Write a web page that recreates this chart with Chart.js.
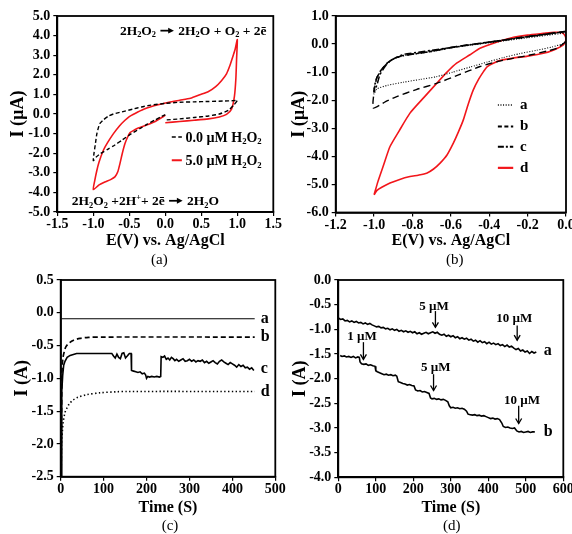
<!DOCTYPE html>
<html>
<head>
<meta charset="utf-8">
<script src="https://cdn.jsdelivr.net/npm/chart.js@4.4.1/dist/chart.umd.min.js"></script>
<style>
  html, body { margin: 0; padding: 0; background: #fff; }
  #wrap { position: relative; width: 572px; height: 534px; overflow: hidden; }
  canvas { position: absolute; }
</style>
</head>
<body>
<div id="wrap">
  <canvas id="ca" width="286" height="267" style="left:0;top:0"></canvas>
  <canvas id="cb" width="286" height="267" style="left:286px;top:0"></canvas>
  <canvas id="cc" width="286" height="267" style="left:0;top:267px"></canvas>
  <canvas id="cd" width="286" height="267" style="left:286px;top:267px"></canvas>
</div>
<script>
const FONT = "'Liberation Serif', 'Times New Roman', serif";
const RED = "#f2161b";
const INK = "#000";

// (a) CV, blank vs 5.0 µM H2O2
const aTicksX = [-1.5, -1.0, -0.5, 0.0, 0.5, 1.0, 1.5];
const aTicksY = [5, 4, 3, 2, 1, 0, -1, -2, -3, -4, -5];
const aBlankE = [0.02, 0.2, 0.4, 0.6, 0.75, 0.88, 0.95, 1.0, 0.95, 0.8, 0.6, 0.4, 0.2, 0.0, -0.2, -0.33, -0.45, -0.6, -0.72, -0.79,
  -0.86, -0.91, -0.95, -0.97, -0.99, -1.0, -0.96, -0.9, -0.8, -0.7, -0.6, -0.47, -0.35, -0.25, -0.15, -0.05, 0.0];
const aBlankI = [-0.3, -0.25, -0.18, -0.1, 0.0, 0.2, 0.45, 0.7, 0.68, 0.66, 0.64, 0.62, 0.6, 0.54, 0.45, 0.36, 0.25, 0.11, 0.0, -0.11,
  -0.3, -0.49, -1.0, -1.5, -2.0, -2.38, -2.2, -2.02, -1.8, -1.58, -1.33, -1.0, -0.74, -0.52, -0.32, -0.12, -0.03];
const aPeroxE = [0.0, 0.2, 0.4, 0.6, 0.75, 0.85, 0.92, 0.96, 0.98, 0.99, 1.0,
  0.97, 0.94, 0.9, 0.85, 0.78, 0.7, 0.6, 0.48, 0.35, 0.2, 0.05, -0.1, -0.2, -0.3, -0.42, -0.5, -0.56, -0.64, -0.72, -0.8, -0.86, -0.92, -0.95, -0.98, -1.0,
  -0.92, -0.84, -0.76, -0.70, -0.66, -0.63, -0.6, -0.56, -0.52, -0.49, -0.43, -0.375, -0.25, -0.14, -0.05, 0.0];
const aPeroxI = [-0.45, -0.38, -0.32, -0.25, -0.15, -0.02, 0.25, 0.9, 1.8, 2.8, 3.8,
  3.3, 2.95, 2.5, 2.05, 1.7, 1.4, 1.15, 0.98, 0.8, 0.7, 0.6, 0.47, 0.37, 0.24, 0.03, -0.13, -0.32, -0.62, -1.0, -1.45, -1.85, -2.45, -2.87, -3.4, -3.86,
  -3.62, -3.47, -3.35, -3.21, -2.95, -2.53, -2.05, -1.51, -1.15, -0.95, -0.82, -0.72, -0.55, -0.38, -0.18, -0.06];

// (b) CV of electrodes a-d
const bTicksX = [-1.2, -1.0, -0.8, -0.6, -0.4, -0.2, 0.0];
const bTicksY = [1, 0, -1, -2, -3, -4, -5, -6];
const bLabels = ["a", "b", "c", "d"];
const bE_a = [0.0, -0.1, -0.24, -0.37, -0.5, -0.6, -0.708, -0.79, -0.848, -0.9, -0.934, -0.965, -0.986, -1.0,
  -1.0, -0.986, -0.93, -0.848, -0.76, -0.674, -0.59, -0.5, -0.41, -0.327, -0.24, -0.153, -0.07, -0.014, 0.0];
const bI_a = [0.4, 0.31, 0.19, 0.07, -0.04, -0.14, -0.28, -0.36, -0.42, -0.54, -0.71, -0.96, -1.22, -1.62,
  -1.78, -1.6, -1.47, -1.36, -1.26, -1.16, -1.0, -0.82, -0.64, -0.48, -0.34, -0.22, -0.1, 0.02, 0.12];
const bE_b = [0.0, -0.1, -0.24, -0.37, -0.5, -0.6, -0.708, -0.79, -0.848, -0.9, -0.934, -0.965, -0.986, -1.0, -1.004,
  -0.94, -0.882, -0.78, -0.674, -0.56, -0.448, -0.361, -0.27, -0.187, -0.1, -0.048, 0.0];
const bI_b = [0.46, 0.36, 0.23, 0.1, -0.02, -0.12, -0.26, -0.34, -0.4, -0.52, -0.69, -0.94, -1.2, -1.7, -2.28,
  -2.05, -1.87, -1.62, -1.4, -1.1, -0.8, -0.63, -0.5, -0.39, -0.25, -0.15, 0.09];
const bE_c = [0.0, -0.1, -0.24, -0.37, -0.5, -0.6, -0.708, -0.79, -0.848, -0.9, -0.934, -0.965, -0.986, -0.998, -1.0,
  -0.985, -0.97, -0.943, -0.915, -0.882, -0.84, -0.77, -0.7, -0.6, -0.5, -0.37, -0.24, -0.1, 0.0];
const bI_c = [0.44, 0.35, 0.22, 0.09, -0.03, -0.13, -0.27, -0.35, -0.41, -0.53, -0.7, -0.95, -1.2, -1.5, -1.7,
  -1.45, -1.1, -0.8, -0.6, -0.47, -0.36, -0.29, -0.22, -0.12, -0.02, 0.1, 0.23, 0.36, 0.45];
const bE_d = [-1.0, -0.98, -0.95, -0.917, -0.87, -0.813, -0.74, -0.674, -0.62, -0.57, -0.5, -0.448, -0.37, -0.292, -0.2, -0.118, -0.06, -0.022, -0.005, 0.0,
  -0.014, -0.06, -0.118, -0.2, -0.275, -0.34, -0.379, -0.41, -0.43, -0.455, -0.483, -0.51, -0.535, -0.56, -0.587, -0.62, -0.656, -0.69, -0.726, -0.77,
  -0.813, -0.87, -0.917, -0.96, -0.986, -1.0];
const bI_d = [-5.37, -4.9, -4.3, -3.65, -3.1, -2.46, -1.9, -1.40, -1.0, -0.68, -0.38, -0.15, 0.05, 0.21, 0.32, 0.38, 0.42, 0.41, 0.3, 0.15,
  -0.03, -0.2, -0.33, -0.43, -0.5, -0.58, -0.68, -0.8, -0.98, -1.25, -1.63, -2.15, -2.7, -3.12, -3.53, -3.95, -4.24, -4.45, -4.6, -4.67,
  -4.72, -4.83, -4.95, -5.1, -5.22, -5.37];

// (c) i-t curves a-d
const cTicksX = [0, 100, 200, 300, 400, 500];
const cTicksY = [0.5, 0.0, -0.5, -1.0, -1.5, -2.0, -2.5];
const cTimeA = [2, 452];
const cCurA = [-0.09, -0.09];
const cTimeB = [1, 2, 3, 5, 8, 12, 20, 30, 45, 65, 100, 452];
const cCurB = [-2.5, -1.5, -0.9, -0.7, -0.6, -0.52, -0.46, -0.42, -0.39, -0.375, -0.37, -0.37];
const cTimeC = [1, 2, 3, 4.7, 7, 10, 15, 22, 37, 60,
  90, 119, 123, 127, 131, 135, 139, 143, 147, 151,
  155, 160, 164, 165, 170, 175, 180, 185, 190, 195,
  198, 200, 203, 207, 212, 218, 224, 230, 233, 234,
  238, 242, 246, 250, 254, 258, 262, 266, 270, 275,
  280, 285, 290, 295, 300, 305, 310, 315, 320, 325,
  330, 335, 340, 345, 350, 355, 360, 365, 370, 375,
  380, 385, 390, 395, 400, 405, 410, 415, 420, 425,
  430, 435, 440, 445, 450];
const cCurC = [-2.5, -1.8, -1.2, -0.95, -0.8, -0.74, -0.68, -0.65, -0.62, -0.62,
  -0.62, -0.62, -0.66, -0.69, -0.63, -0.68, -0.7, -0.62, -0.61, -0.69,
  -0.66, -0.62, -0.62, -0.88, -0.89, -0.9, -0.91, -0.9, -0.93, -0.92,
  -0.95, -1.0, -0.97, -0.98, -0.97, -0.98, -0.97, -0.98, -0.97, -0.67,
  -0.68, -0.66, -0.71, -0.69, -0.72, -0.68, -0.7, -0.73, -0.71, -0.74,
  -0.72, -0.7, -0.74, -0.73, -0.71, -0.74, -0.72, -0.75, -0.73, -0.74,
  -0.72, -0.76, -0.74, -0.77, -0.75, -0.73, -0.76, -0.78, -0.74, -0.72,
  -0.75, -0.77, -0.79, -0.76, -0.78, -0.8, -0.83, -0.79, -0.82, -0.8,
  -0.84, -0.83, -0.86, -0.84, -0.88];
const cTimeD = [1, 2, 4, 6, 10, 14, 20, 29, 40, 60, 92, 130, 154, 452];
const cCurD = [-2.5, -2.0, -1.8, -1.66, -1.52, -1.46, -1.39, -1.33, -1.29, -1.25, -1.22, -1.205, -1.2, -1.2];

// (d) amperometric response to H2O2 additions
const dTicksX = [0, 100, 200, 300, 400, 500, 600];
const dTicksY = [0.0, -0.5, -1.0, -1.5, -2.0, -2.5, -3.0, -3.5, -4.0];
const dTimeA = [0, 6, 12, 18, 24, 30, 36, 42, 48, 54,
  60, 66, 72, 78, 84, 90, 96, 102, 108, 114,
  120, 126, 132, 138, 144, 150, 156, 162, 168, 174,
  180, 186, 192, 198, 204, 210, 216, 222, 228, 234,
  240, 246, 252, 258, 264, 270, 276, 282, 288, 294,
  300, 306, 312, 318, 324, 330, 336, 342, 348, 354,
  360, 366, 372, 378, 384, 390, 396, 402, 408, 414,
  420, 426, 432, 438, 444, 450, 456, 462, 468, 474,
  480, 486, 492, 498, 504, 510, 516, 522, 528];
const dCurA = [-0.77, -0.80, -0.79, -0.83, -0.82, -0.85, -0.83, -0.86, -0.84, -0.87,
  -0.86, -0.89, -0.87, -0.90, -0.88, -0.91, -0.93, -0.95, -0.94, -0.97,
  -0.96, -0.99, -0.98, -1.01, -0.99, -1.02, -1.00, -1.04, -1.02, -1.05,
  -1.03, -1.06, -1.04, -1.07, -1.05, -1.09, -1.07, -1.10, -1.08, -1.06,
  -1.09, -1.07, -1.05, -1.08, -1.06, -1.10, -1.12, -1.10, -1.14, -1.12,
  -1.15, -1.13, -1.17, -1.15, -1.19, -1.17, -1.20, -1.18, -1.22, -1.20,
  -1.24, -1.22, -1.26, -1.23, -1.27, -1.25, -1.29, -1.26, -1.30, -1.28,
  -1.31, -1.29, -1.33, -1.31, -1.35, -1.32, -1.36, -1.34, -1.38, -1.41,
  -1.39, -1.44, -1.42, -1.46, -1.44, -1.49, -1.45, -1.48, -1.46];
const dTimeB = [5, 10, 16, 22, 28, 34, 40, 46, 52, 56,
  58, 62, 68, 74, 80, 86, 92, 98, 100, 104,
  110, 116, 122, 128, 134, 140, 146, 152, 156, 160,
  166, 172, 178, 184, 190, 196, 202, 206, 212, 218,
  224, 230, 236, 242, 246, 250, 256, 262, 268, 274,
  280, 286, 292, 296, 300, 306, 312, 318, 324, 330,
  336, 342, 346, 352, 358, 364, 370, 376, 382, 388,
  394, 400, 406, 412, 418, 424, 430, 436, 440, 446,
  452, 458, 464, 470, 476, 482, 488, 494, 500, 506,
  512, 518, 524];
const dCurB = [-1.53, -1.55, -1.54, -1.56, -1.55, -1.57, -1.55, -1.58, -1.56, -1.57,
  -1.66, -1.70, -1.71, -1.70, -1.73, -1.72, -1.74, -1.75, -1.84, -1.86,
  -1.88, -1.90, -1.92, -1.91, -1.93, -1.92, -1.94, -1.93, -1.95, -2.06,
  -2.08, -2.10, -2.11, -2.13, -2.12, -2.14, -2.15, -2.23, -2.25, -2.24,
  -2.27, -2.26, -2.28, -2.30, -2.39, -2.41, -2.40, -2.42, -2.41, -2.43,
  -2.42, -2.44, -2.47, -2.55, -2.59, -2.58, -2.60, -2.59, -2.61, -2.60,
  -2.62, -2.66, -2.72, -2.73, -2.74, -2.73, -2.75, -2.74, -2.76, -2.75,
  -2.77, -2.79, -2.81, -2.80, -2.82, -2.81, -2.83, -2.90, -2.97, -2.99,
  -2.98, -3.00, -3.01, -3.00, -3.06, -3.08, -3.07, -3.09, -3.08, -3.07,
  -3.09, -3.08, -3.08];

const pts = (xs, ys) => xs.map((x, i) => ({ x, y: ys[i] }));
const fix1 = v => Number(v).toFixed(1);
const int0 = v => String(Math.round(v));

function line(xs, ys, color, width, dash, tension) {
  return {
    data: pts(xs, ys),
    showLine: true,
    borderColor: color,
    borderWidth: width,
    borderDash: dash || [],
    tension: tension || 0,
    pointRadius: 0,
    fill: false,
  };
}

function axis(pos, min, max, ticks, fmt, title, box, titlePad) {
  const bottom = pos === "bottom";
  return {
    type: "linear",
    position: pos,
    min, max,
    afterBuildTicks: s => { s.ticks = ticks.map(v => ({ value: v })); },
    afterFit: s => {
      if (bottom) s.height = box; else s.width = box;
      s.paddingLeft = s.paddingRight = s.paddingTop = s.paddingBottom = 0;
    },
    ticks: {
      callback: fmt,
      color: INK,
      font: { family: FONT, size: 14, weight: "bold" },
      padding: bottom ? 0 : 3,
      maxRotation: 0,
      autoSkip: false,
    },
    grid: { drawOnChartArea: false, drawTicks: true, tickLength: 4, color: INK, lineWidth: 1.2 },
    border: { color: INK, width: 1.8 },
    title: {
      display: true,
      text: title,
      color: INK,
      font: { family: FONT, size: bottom ? 16 : 18, weight: "bold" },
      padding: bottom ? { top: 0, bottom: titlePad } : { top: titlePad, bottom: 0 },
    },
  };
}

// draws "2H_2O_2 -> ..." : _x subscript, ^x superscript, -> solid arrow
function rich(ctx, str, x, y, size, align) {
  const parts = [];
  for (let i = 0; i < str.length; i++) {
    const ch = str[i];
    if ((ch === "_" || ch === "^") && i + 1 < str.length) { parts.push([str[i + 1], ch]); i++; }
    else if (ch === "-" && str[i + 1] === ">") { parts.push(["", ">"]); i++; }
    else if (parts.length && parts[parts.length - 1][1] === "") parts[parts.length - 1][0] += ch;
    else parts.push([ch, ""]);
  }
  const fontOf = m => `bold ${m === "_" || m === "^" ? size * 0.62 : size}px ${FONT}`;
  const widthOf = p => {
    if (p[1] === ">") return size * 1.15;
    ctx.font = fontOf(p[1]);
    return ctx.measureText(p[0]).width;
  };
  const total = parts.reduce((s, p) => s + widthOf(p), 0);
  let cx = align === "center" ? x - total / 2 : align === "right" ? x - total : x;
  const base = y + size * 0.34;
  ctx.save();
  ctx.fillStyle = INK;
  ctx.strokeStyle = INK;
  ctx.textBaseline = "alphabetic";
  ctx.textAlign = "left";
  for (const p of parts) {
    const w = widthOf(p);
    if (p[1] === ">") {
      const my = base - size * 0.3;
      ctx.lineWidth = size * 0.13;
      ctx.beginPath(); ctx.moveTo(cx + 1, my); ctx.lineTo(cx + w - size * 0.4, my); ctx.stroke();
      ctx.beginPath();
      ctx.moveTo(cx + w - 1, my);
      ctx.lineTo(cx + w - size * 0.5, my - size * 0.22);
      ctx.lineTo(cx + w - size * 0.5, my + size * 0.22);
      ctx.closePath(); ctx.fill();
    } else {
      ctx.font = fontOf(p[1]);
      const dy = p[1] === "_" ? size * 0.2 : p[1] === "^" ? -size * 0.38 : 0;
      ctx.fillText(p[0], cx, base + dy);
    }
    cx += w;
  }
  ctx.restore();
}

function caption(chart, text, dx, y) {
  const { ctx, chartArea: a } = chart;
  ctx.save();
  ctx.fillStyle = INK;
  ctx.font = `15px ${FONT}`;
  ctx.textAlign = "center";
  ctx.textBaseline = "middle";
  ctx.fillText(text, (a.left + a.right) / 2 + dx, y);
  ctx.restore();
}

function sample(ctx, x1, x2, y, color, width, dash) {
  ctx.save();
  ctx.strokeStyle = color;
  ctx.lineWidth = width;
  ctx.setLineDash(dash);
  ctx.beginPath(); ctx.moveTo(x1, y); ctx.lineTo(x2, y); ctx.stroke();
  ctx.restore();
}

function downArrow(ctx, x, y1, y2) {
  ctx.save();
  ctx.strokeStyle = INK;
  ctx.lineWidth = 1.3;
  ctx.beginPath(); ctx.moveTo(x, y1); ctx.lineTo(x, y2); ctx.stroke();
  ctx.beginPath(); ctx.moveTo(x - 3, y2 - 5); ctx.lineTo(x, y2); ctx.lineTo(x + 3, y2 - 5); ctx.stroke();
  ctx.restore();
}

function label(ctx, text, x, y, size, align) {
  ctx.save();
  ctx.fillStyle = INK;
  ctx.font = `bold ${size}px ${FONT}`;
  ctx.textAlign = align || "left";
  ctx.textBaseline = "middle";
  ctx.fillText(text, x, y);
  ctx.restore();
}

const framePlugin = {
  id: "frame",
  afterDraw(chart) {
    const { ctx, chartArea: a } = chart;
    ctx.save();
    ctx.strokeStyle = INK;
    ctx.lineWidth = 1.8;
    ctx.strokeRect(a.left, a.top, a.right - a.left, a.bottom - a.top);
    ctx.restore();
  },
};

function makeChart(id, datasets, scales, padding, notes) {
  return new Chart(document.getElementById(id), {
    type: "scatter",
    data: { datasets },
    options: {
      responsive: false,
      animation: false,
      layout: { padding },
      plugins: { legend: { display: false }, tooltip: { enabled: false } },
      scales,
    },
    plugins: [framePlugin, { id: "notes", afterDraw: notes }],
  });
}

// ---------- (a)
makeChart("ca",
  [
    line(aBlankE, aBlankI, INK, 1.4, [4, 2.5], 0.2),
    line(aPeroxE, aPeroxI, RED, 1.6, [], 0.2),
  ],
  {
    x: axis("bottom", -1.5, 1.5, aTicksX, fix1, "E(V) vs. Ag/AgCl", 55, 17),
    y: axis("left", -5, 5, aTicksY, fix1, "I (µA)", 57.3, 8),
  },
  { left: 0, top: 16, right: 12.7, bottom: 0 },
  chart => {
    const { ctx, scales: { x, y } } = chart;
    rich(ctx, "2H_2O_2 -> 2H_2O + O_2 + 2ē", x.getPixelForValue(-0.63), y.getPixelForValue(4.28), 13.5, "left");
    rich(ctx, "2H_2O_2 +2H^++ 2ē -> 2H_2O", x.getPixelForValue(-1.3), y.getPixelForValue(-4.4), 13.5, "left");
    const sx1 = x.getPixelForValue(0.09), sx2 = x.getPixelForValue(0.23), tx = x.getPixelForValue(0.28);
    sample(ctx, sx1, sx2, y.getPixelForValue(-1.17), INK, 1.6, [4, 2.5]);
    rich(ctx, "0.0 µM H_2O_2", tx, y.getPixelForValue(-1.17), 14, "left");
    sample(ctx, sx1, sx2, y.getPixelForValue(-2.36), RED, 2, []);
    rich(ctx, "5.0 µM H_2O_2", tx, y.getPixelForValue(-2.36), 14, "left");
    caption(chart, "(a)", -6, 260);
  });

// ---------- (b)
const bStyles = [
  { color: INK, width: 1.1, dash: [1, 1.6] },
  { color: INK, width: 1.4, dash: [7, 4] },
  { color: INK, width: 1.5, dash: [7, 2.5, 2, 2.5] },
  { color: RED, width: 1.6, dash: [] },
];
makeChart("cb",
  [
    line(bE_a, bI_a, bStyles[0].color, bStyles[0].width, bStyles[0].dash, 0.2),
    line(bE_b, bI_b, bStyles[1].color, bStyles[1].width, bStyles[1].dash, 0.2),
    line(bE_c, bI_c, bStyles[2].color, bStyles[2].width, bStyles[2].dash, 0.2),
    line(bE_d, bI_d, bStyles[3].color, bStyles[3].width, bStyles[3].dash, 0.2),
  ],
  {
    x: axis("bottom", -1.2, 0.0, bTicksX, fix1, "E(V) vs. Ag/AgCl", 54.5, 17),
    y: axis("left", -6, 1, bTicksY, fix1, "I (µA)", 49.7, 3),
  },
  { left: 0, top: 16, right: 6, bottom: 0 },
  chart => {
    const { ctx, scales: { x, y } } = chart;
    const rows = [-2.17, -2.94, -3.66, -4.41];
    const sx1 = x.getPixelForValue(-0.355), sx2 = x.getPixelForValue(-0.275), tx = x.getPixelForValue(-0.24);
    bLabels.forEach((name, i) => {
      const yy = y.getPixelForValue(rows[i]);
      const st = bStyles[i];
      sample(ctx, sx1, sx2, yy, st.color, st.width + 0.6, i === 1 ? [4, 2.5] : i === 2 ? [6, 2, 2, 2] : st.dash);
      label(ctx, name, tx, yy, 15);
    });
    caption(chart, "(b)", 4, 260);
  });

// ---------- (c)
makeChart("cc",
  [
    line(cTimeA, cCurA, INK, 1.1, [], 0),
    line(cTimeB, cCurB, INK, 1.7, [5, 3], 0.3),
    line(cTimeC, cCurC, INK, 1.6, [], 0),
    line(cTimeD, cCurD, INK, 1.6, [1.4, 2.4], 0.3),
  ],
  {
    x: axis("bottom", 0, 500, cTicksX, int0, "Time (S)", 57.3, 16.5),
    y: axis("left", -2.5, 0.5, cTicksY, fix1, "I (A)", 60.7, 12),
  },
  { left: 0, top: 13, right: 10.7, bottom: 0 },
  chart => {
    const { ctx, scales: { x, y } } = chart;
    const tx = x.getPixelForValue(466);
    label(ctx, "a", tx, y.getPixelForValue(-0.09), 16);
    label(ctx, "b", tx, y.getPixelForValue(-0.37), 16);
    label(ctx, "c", tx, y.getPixelForValue(-0.85), 16);
    label(ctx, "d", tx, y.getPixelForValue(-1.2), 16);
    caption(chart, "(c)", 2, 259);
  });

// ---------- (d)
makeChart("cd",
  [
    line(dTimeA, dCurA, INK, 1.6, [], 0),
    line(dTimeB, dCurB, INK, 1.6, [], 0),
  ],
  {
    x: axis("bottom", 0, 600, dTicksX, int0, "Time (S)", 56.7, 16.5),
    y: axis("left", -4, 0, dTicksY, fix1, "I (A)", 52.3, 4),
  },
  { left: 0, top: 13, right: 8.7, bottom: 0 },
  chart => {
    const { ctx, scales: { x, y } } = chart;
    const notes = [
      { text: "5 µM", t: 255, i: -0.53, at: 259, from: -0.63, to: -0.96 },
      { text: "10 µM", t: 469, i: -0.79, at: 477, from: -0.92, to: -1.22 },
      { text: "1 µM", t: 63, i: -1.14, at: 67, from: -1.26, to: -1.61 },
      { text: "5 µM", t: 260, i: -1.77, at: 254, from: -1.91, to: -2.24 },
      { text: "10 µM", t: 490, i: -2.44, at: 481, from: -2.55, to: -2.91 },
    ];
    notes.forEach(n => {
      label(ctx, n.text, x.getPixelForValue(n.t), y.getPixelForValue(n.i), 13, "center");
      downArrow(ctx, x.getPixelForValue(n.at), y.getPixelForValue(n.from), y.getPixelForValue(n.to));
    });
    label(ctx, "a", x.getPixelForValue(548), y.getPixelForValue(-1.43), 16);
    label(ctx, "b", x.getPixelForValue(548), y.getPixelForValue(-3.08), 16);
    caption(chart, "(d)", 1, 259);
  });
</script>
</body>
</html>
